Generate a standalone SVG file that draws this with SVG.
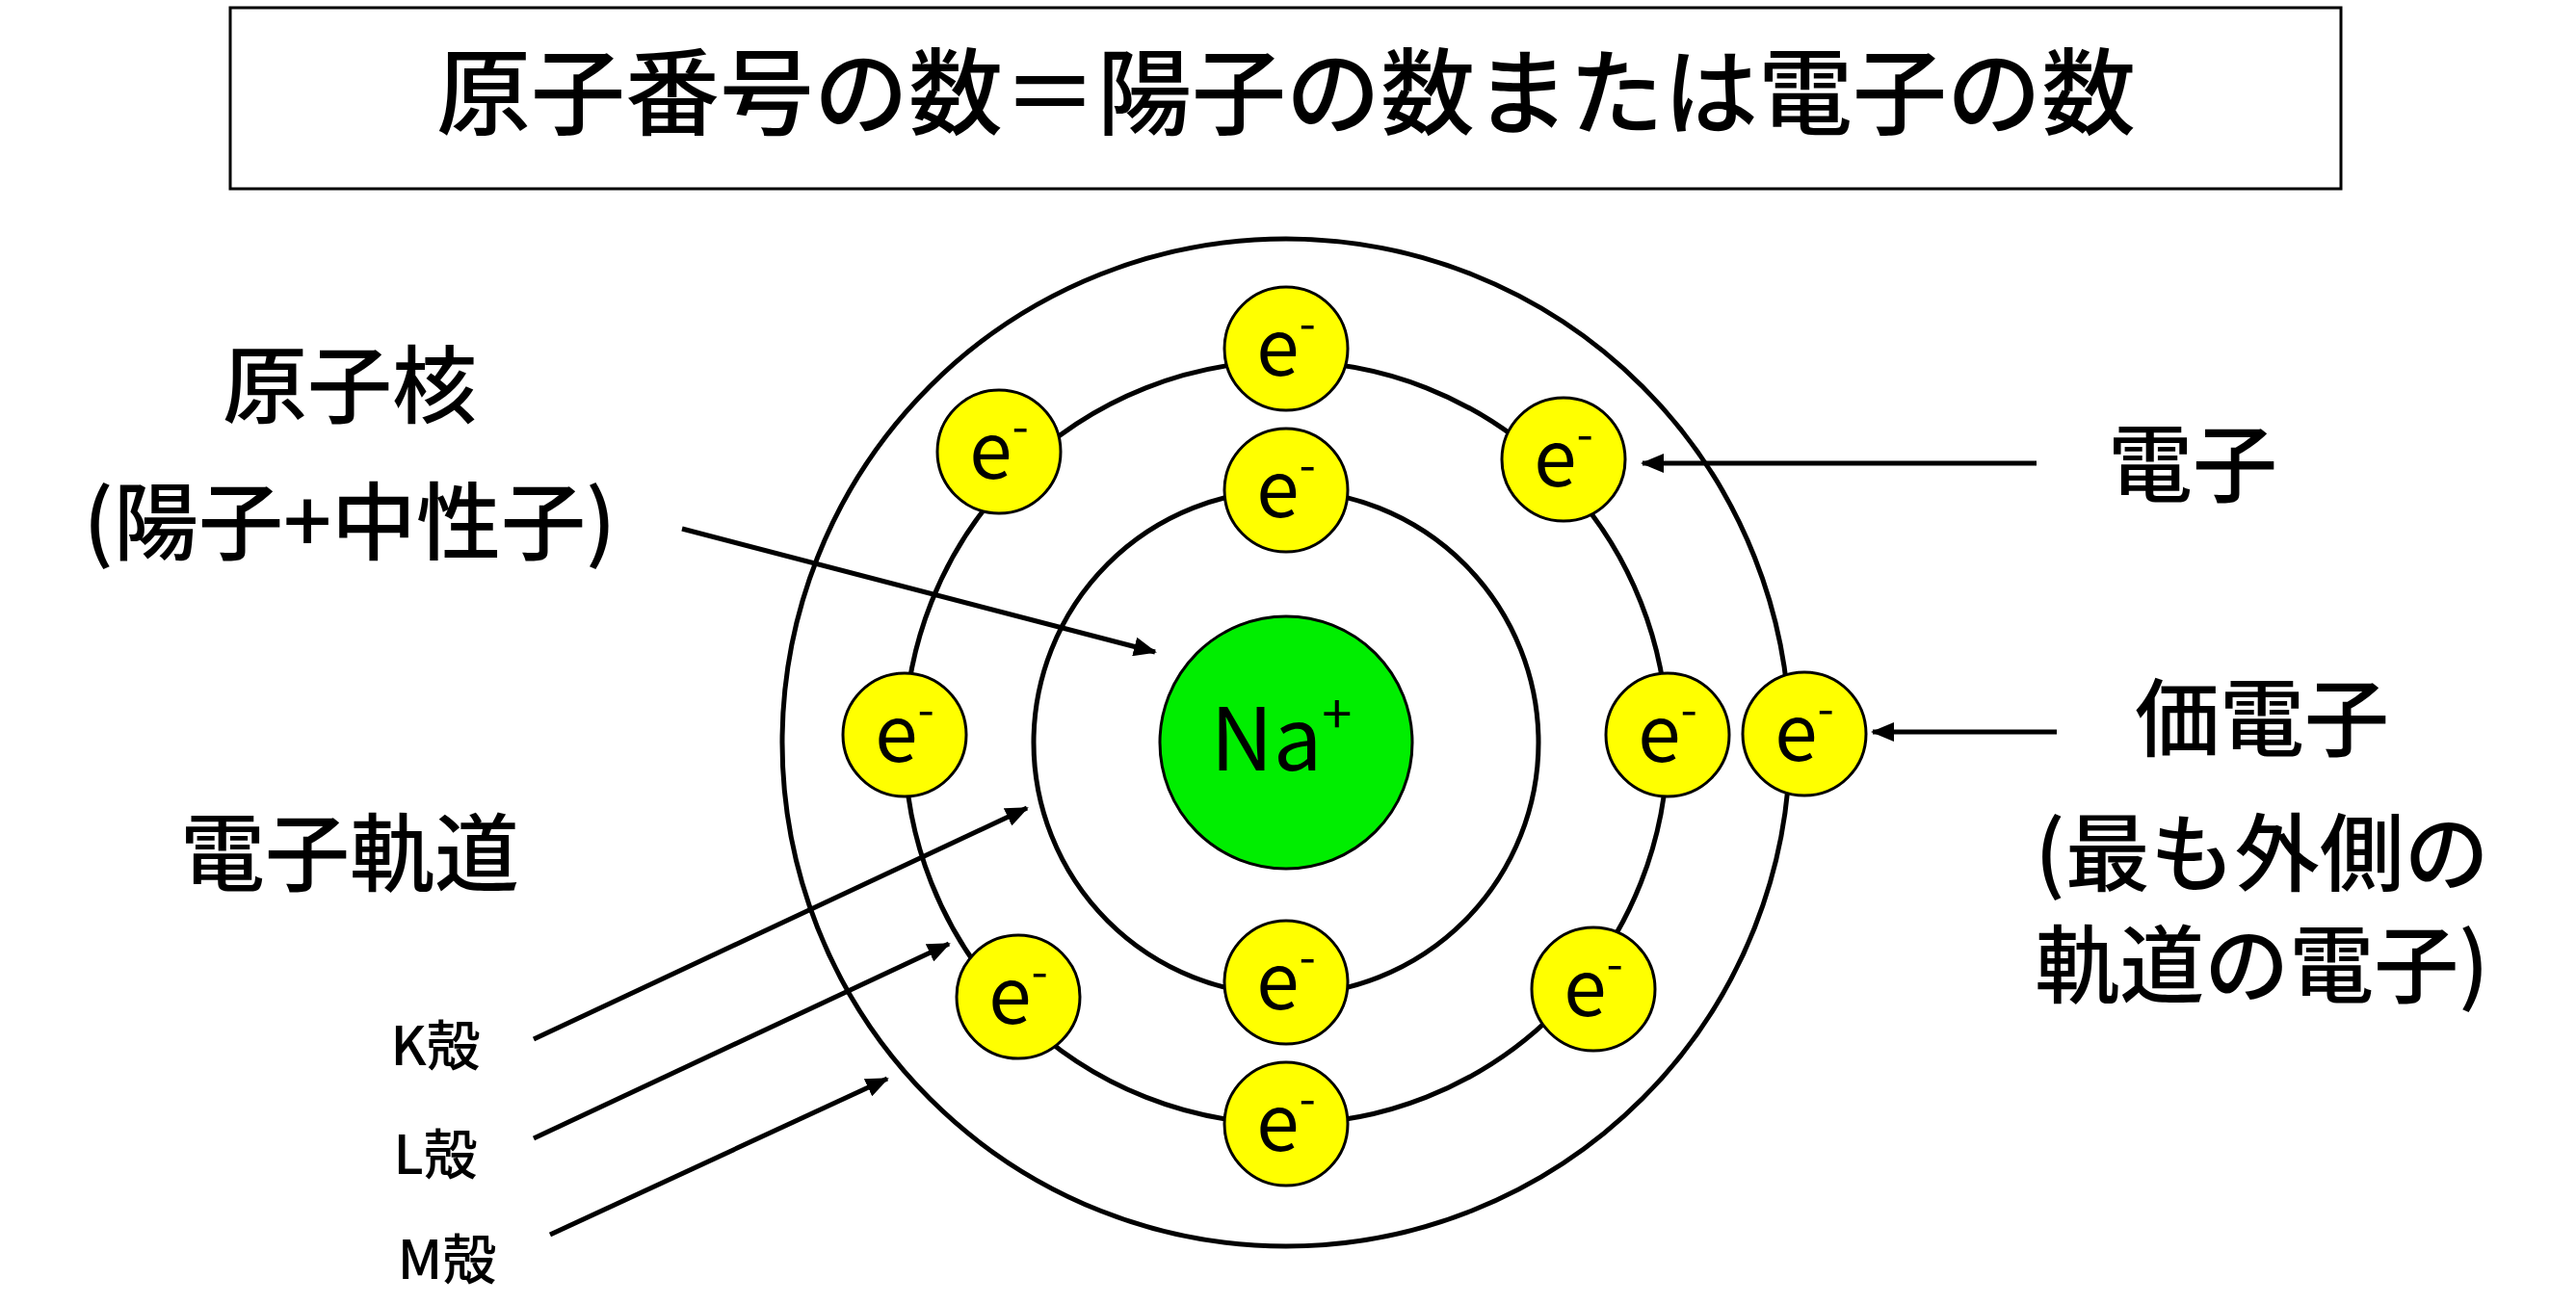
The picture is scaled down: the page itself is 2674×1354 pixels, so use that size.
<svg xmlns="http://www.w3.org/2000/svg" width="2674" height="1354" viewBox="0 0 2674 1354">
<style>
text{font-family:"Noto Sans CJK JP","Liberation Sans",sans-serif;fill:#000}
.shell{fill:none;stroke:#000;stroke-width:5}
.lbl{font-size:88px;text-anchor:middle;font-weight:500}
.sm{font-size:56px;text-anchor:middle;font-weight:500}
.ar{stroke:#000;stroke-width:5;fill:none;marker-end:url(#ah)}
</style>
<defs>
<marker id="ah" markerWidth="24" markerHeight="20" refX="22" refY="10" orient="auto" markerUnits="userSpaceOnUse" viewBox="0 0 24 20"><path d="M0,0L24,10L0,20z" fill="#000"/></marker>
<g id="e"><circle r="64" fill="#ffff00" stroke="#000" stroke-width="3"/><text y="28" font-family="Liberation Sans,sans-serif" font-size="80" text-anchor="middle">e<tspan font-size="50" dy="-36">-</tspan></text></g>
</defs>
<rect width="2674" height="1354" fill="#fff"/>
<g id="title"><rect x="239" y="8" width="2191" height="188" fill="#fff" stroke="#000" stroke-width="3"/>
<text x="1335" y="132" font-size="98" font-weight="500" text-anchor="middle">原子番号の数＝陽子の数または電子の数</text></g>
<g id="shells"><circle class="shell" cx="1335" cy="771" r="523"/><circle class="shell" cx="1335" cy="771" r="396"/><circle class="shell" cx="1335" cy="771" r="262"/></g>
<g id="nucleus"><circle cx="1335" cy="771" r="131" fill="#00ee00" stroke="#000" stroke-width="3"/>
<text x="1330" y="800" font-family="Liberation Sans,sans-serif" font-size="90" text-anchor="middle">Na<tspan font-size="56" dy="-38">+</tspan></text></g>
<g id="electrons">
<use href="#e" x="1335" y="509"/><use href="#e" x="1335" y="1020"/>
<use href="#e" x="1335" y="362"/><use href="#e" x="1335" y="1167"/>
<use href="#e" x="939" y="763"/><use href="#e" x="1731" y="763"/>
<use href="#e" x="1037" y="469"/><use href="#e" x="1623" y="477"/>
<use href="#e" x="1057" y="1035"/><use href="#e" x="1654" y="1027"/>
<use href="#e" x="1873" y="762"/>
</g>
<g id="labels">
<text class="lbl" x="363" y="432">原子核</text>
<text class="lbl" x="363" y="574">(陽子+中性子)</text>
<text class="lbl" x="363" y="918">電子軌道</text>
<text class="sm" x="452" y="1106">K殻</text>
<text class="sm" x="452" y="1219">L殻</text>
<text class="sm" x="464" y="1328">M殻</text>
<text class="lbl" x="2276" y="514">電子</text>
<text class="lbl" x="2348" y="778">価電子</text>
<text class="lbl" x="2348" y="918">(最も外側の</text>
<text class="lbl" x="2348" y="1034">軌道の電子)</text>
</g>
<g id="connectors">
<line class="ar" x1="708" y1="549" x2="1199" y2="677"/>
<line class="ar" x1="2114" y1="481" x2="1705" y2="481"/>
<line class="ar" x1="2135" y1="760" x2="1944" y2="760"/>
<line class="ar" x1="554" y1="1079" x2="1066" y2="839"/>
<line class="ar" x1="554" y1="1182" x2="985" y2="980"/>
<line class="ar" x1="571" y1="1282" x2="921" y2="1120"/>
</g>
</svg>
